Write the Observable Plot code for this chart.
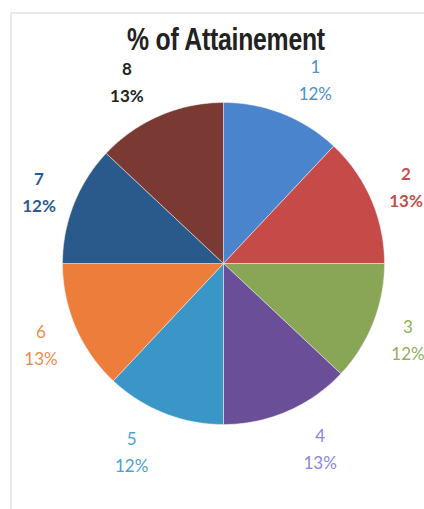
<!DOCTYPE html>
<html>
<head>
<meta charset="utf-8">
<script src="https://cdn.jsdelivr.net/npm/d3@7"></script>
<script src="https://cdn.jsdelivr.net/npm/@observablehq/plot@0.6"></script>
<style>
  html, body { margin: 0; padding: 0; background: #fff; }
  #wrap { position: relative; width: 424px; height: 509px; overflow: hidden; }
  #frame { position: absolute; left: 10px; top: 12px; right: -5px; bottom: -5px;
           border-top: 2px solid #e9e9e9; border-left: 2px solid #e9e9e9; pointer-events: none; z-index: 2; }
  #title { position: absolute; left: 0; top: 0; width: 424px; height: 50px; z-index: 3; }
  #title span { position: absolute; left: 226px; top: 23.5px; transform: translateX(-50%) scaleX(0.80);
                font-family: "Liberation Sans", Arial, sans-serif; font-weight: 700; font-size: 31px;
                line-height: 31px; color: #222; white-space: nowrap; letter-spacing: -0.3px; }
  #chart svg { display: block; }
</style>
</head>
<body>
<div id="wrap">
  <div id="frame"></div>
  <div id="title"><span>% of Attainement</span></div>
  <div id="chart"></div>
</div>
<script>
const categories = ["1", "2", "3", "4", "5", "6", "7", "8"];
const percents = [12, 13, 12, 13, 12, 13, 12, 13];
const sliceColors = ["#4a84cc", "#c64a48", "#88a656", "#6a4f98", "#3a96c6", "#ec7d3b", "#2a5a8c", "#7a3a33"];
const labelColors = ["#4b8fd6", "#c2504d", "#8fae5a", "#8a86df", "#4aa0d0", "#f08a4b", "#2b5b8e", "#222222"];
const boldLabels = ["2", "7", "8"];

const W = 424, H = 509;
const cx = 223, cy = 263, r = 161;

const arcs = d3.pie().sort(null).value(d => d)(percents);

// slice outlines in unit-circle coordinates
const slicePts = [];
arcs.forEach((a, i) => {
  const n = 60;
  slicePts.push({cat: categories[i], x: 0, y: 0, color: sliceColors[i]});
  for (let k = 0; k <= n; k++) {
    const t = a.startAngle + (a.endAngle - a.startAngle) * k / n;
    slicePts.push({cat: categories[i], x: Math.sin(t), y: Math.cos(t), color: sliceColors[i]});
  }
  slicePts.push({cat: categories[i], x: 0, y: 0, color: sliceColors[i]});
});

// outside-end label placement (label box pushed sideways away from the pie)
const labels = arcs.map((a, i) => {
  const m = (a.startAngle + a.endAngle) / 2;
  const s = Math.sin(m);
  return {
    cat: categories[i],
    pct: percents[i] + "%",
    x: 1.025 * s + 0.193 * Math.sign(s),
    y: 1.242 * Math.cos(m),
    color: labelColors[i],
    weight: boldLabels.includes(categories[i]) ? "bold" : "normal"
  };
});

const labelFont = "Lato, 'Open Sans', sans-serif";
const labelMarks = labels.flatMap(l => [
  Plot.text([l], {x: "x", y: "y", text: "cat", dy: -10, fill: l.color, fontWeight: l.weight,
    fontSize: 17, fontFamily: labelFont}),
  Plot.text([l], {x: "x", y: "y", text: "pct", dy: 17, fill: l.color, fontWeight: l.weight,
    fontSize: 17, fontFamily: labelFont})
]);

const chart = Plot.plot({
  width: W,
  height: H,
  margin: 0,
  x: {domain: [-cx / r, (W - cx) / r], range: [0, W], axis: null},
  y: {domain: [-(H - cy) / r, cy / r], range: [H, 0], axis: null},
  color: {type: "identity"},
  marks: [
    Plot.line(slicePts, {x: "x", y: "y", z: "cat", fill: "color", stroke: "#f4f4f4", strokeWidth: 0.7,
      strokeOpacity: 0.7, curve: "linear"}),
    ...labelMarks
  ]
});
document.getElementById("chart").appendChild(chart);
</script>
</body>
</html>
